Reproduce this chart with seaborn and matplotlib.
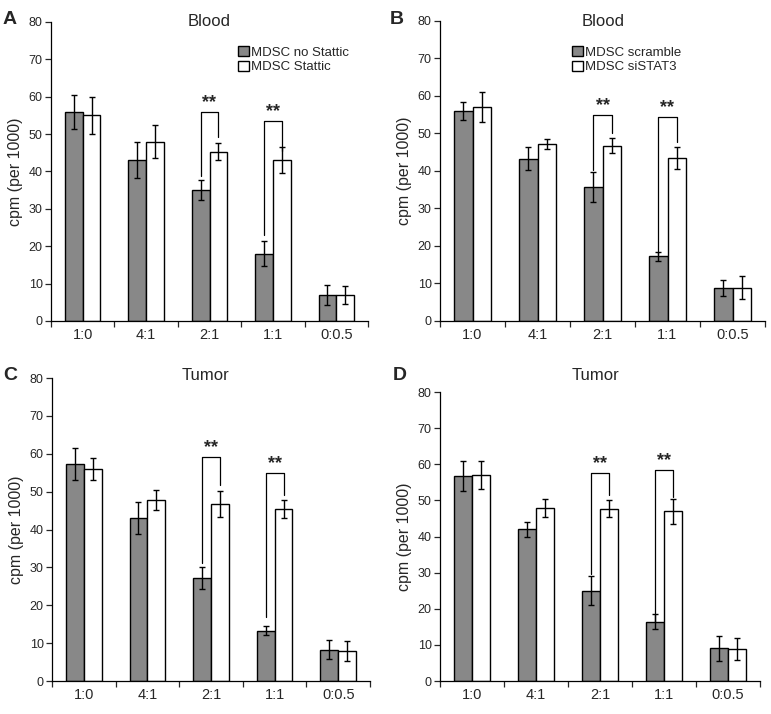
import numpy as np
import pandas as pd
import seaborn as sns
import matplotlib.pyplot as plt
from matplotlib.ticker import FixedLocator

# Data
ratios = ["1:0", "4:1", "2:1", "1:1", "0:0.5"]

a_groups = ["MDSC no Stattic", "MDSC Stattic"]
a_gray = [56.0, 43.0, 35.0, 18.0, 7.0]
a_gray_err = [4.5, 4.8, 2.7, 3.4, 2.6]
a_white = [55.0, 48.0, 45.3, 43.0, 7.0]
a_white_err = [5.0, 4.5, 2.2, 3.5, 2.4]
a_brackets = [(2, 56.0, 38.9, 49.2), (3, 53.6, 23.0, 45.4)]

b_groups = ["MDSC scramble", "MDSC siSTAT3"]
b_gray = [56.0, 43.3, 35.7, 17.2, 8.8]
b_gray_err = [2.3, 3.0, 4.0, 1.2, 2.2]
b_white = [57.0, 47.2, 46.7, 43.5, 8.9]
b_white_err = [4.0, 1.3, 2.0, 3.0, 3.1]
b_brackets = [(2, 55.0, 40.2, 50.0), (3, 54.4, 17.8, 47.8)]

c_gray = [57.4, 43.1, 27.2, 13.3, 8.3]
c_gray_err = [4.2, 4.2, 3.0, 1.1, 2.5]
c_white = [56.0, 47.8, 46.7, 45.5, 7.9]
c_white_err = [2.9, 2.7, 3.5, 2.4, 2.6]
c_brackets = [(2, 59.1, 31.2, 51.8), (3, 54.9, 16.9, 49.1)]

d_gray = [56.7, 42.0, 25.0, 16.4, 9.0]
d_gray_err = [4.2, 2.0, 4.0, 2.1, 3.5]
d_white = [57.0, 48.0, 47.7, 47.0, 8.8]
d_white_err = [3.8, 2.5, 2.3, 3.5, 3.0]
d_brackets = [(2, 57.6, 29.7, 51.6), (3, 58.5, 16.3, 50.9)]

sns.set_style("white")
plt.rcParams['font.family'] = ['Liberation Sans', 'DejaVu Sans']

GRAY = "#888888"


def draw_panel(ax, groups, gray, gray_err, white, white_err, brackets, show_legend):
    df = pd.DataFrame({
        "ratio": ratios * 2,
        "group": [groups[0]] * len(ratios) + [groups[1]] * len(ratios),
        "cpm": gray + white,
    })
    sns.barplot(data=df, x="ratio", y="cpm", hue="group", order=ratios,
                hue_order=groups, palette=[GRAY, "white"], width=0.56,
                edgecolor="black", linewidth=1.0, saturation=1,
                errorbar=None, legend=show_legend, ax=ax)

    centers = []
    for cont, errs in zip(ax.containers, [gray_err, white_err]):
        xs = [p.get_x() + p.get_width() / 2 for p in cont.patches]
        ys = [p.get_height() for p in cont.patches]
        centers.append(xs)
        ax.errorbar(xs, ys, yerr=errs, fmt="none", ecolor="black",
                    elinewidth=1.0, capsize=2.5, capthick=1.0, zorder=5)

    for idx, top, lo_left, lo_right in brackets:
        x0, x1 = centers[0][idx], centers[1][idx]
        ax.plot([x0, x0, x1, x1], [lo_left, top, top, lo_right],
                color="black", lw=0.9, zorder=6)
        ax.text((x0 + x1) / 2, top + 0.2, "**", ha="center", va="bottom",
                fontsize=13, fontweight="bold")

    ax.set_ylim(0, 80)
    ax.set_xlim(-0.5, len(ratios) - 0.5)
    ax.set_yticks(np.arange(0, 81, 10))
    ax.tick_params(axis="y", labelsize=9, length=4, width=0.9,
                   direction="out", left=True, pad=2)
    ax.tick_params(axis="x", labelsize=10.5, length=0, pad=5)
    ax.xaxis.set_minor_locator(FixedLocator(np.arange(-0.5, len(ratios), 1.0)))
    ax.tick_params(axis="x", which="minor", length=4, width=0.9,
                   direction="out", bottom=True)
    ax.set_xlabel("")
    ax.set_ylabel("cpm (per 1000)", fontsize=11.5, labelpad=4)
    for side in ["top", "right"]:
        ax.spines[side].set_visible(False)
    for side in ["left", "bottom"]:
        ax.spines[side].set_color("black")
        ax.spines[side].set_linewidth(0.9)
    ax.grid(False)


W, H = 771, 714
fig = plt.figure(figsize=(W / 100, H / 100), dpi=100)


def px_axes(left, right, top, bottom):
    return fig.add_axes([left / W, 1 - bottom / H, (right - left) / W, (bottom - top) / H])


ax_a = px_axes(51, 368, 22, 321)
ax_b = px_axes(440, 765, 21, 321)
ax_c = px_axes(52, 370, 378, 681)
ax_d = px_axes(440, 760, 392, 681)

draw_panel(ax_a, a_groups, a_gray, a_gray_err, a_white, a_white_err, a_brackets, True)
draw_panel(ax_b, b_groups, b_gray, b_gray_err, b_white, b_white_err, b_brackets, True)
draw_panel(ax_c, a_groups, c_gray, c_gray_err, c_white, c_white_err, c_brackets, False)
draw_panel(ax_d, b_groups, d_gray, d_gray_err, d_white, d_white_err, d_brackets, False)

# legends placed like the original (upper right inside panels A and B)
for ax, (lx, ly) in [(ax_a, (238, 46)), (ax_b, (572, 46))]:
    old = ax.get_legend()
    handles = old.legend_handles
    labels = [t.get_text() for t in old.get_texts()]
    old.remove()
    ax.legend(handles, labels, loc="upper left", bbox_to_anchor=(lx / W, 1 - ly / H),
              bbox_transform=fig.transFigure, frameon=False, fontsize=9.5,
              handlelength=0.8, handleheight=0.8, handletextpad=0.2,
              labelspacing=0.15, borderpad=0, borderaxespad=0)

# titles and panel letters
for x, y, t in [(209, 21, "Blood"), (603, 21, "Blood"), (206, 375, "Tumor"), (596, 375, "Tumor")]:
    fig.text(x / W, 1 - y / H, t, ha="center", va="center", fontsize=12)
for x, y, t in [(10, 20, "A"), (397, 20, "B"), (10, 375, "C"), (400, 375, "D")]:
    fig.text(x / W, 1 - y / H, t, ha="center", va="center", fontsize=14, fontweight="bold")

fig.savefig("out.png", dpi=100)
